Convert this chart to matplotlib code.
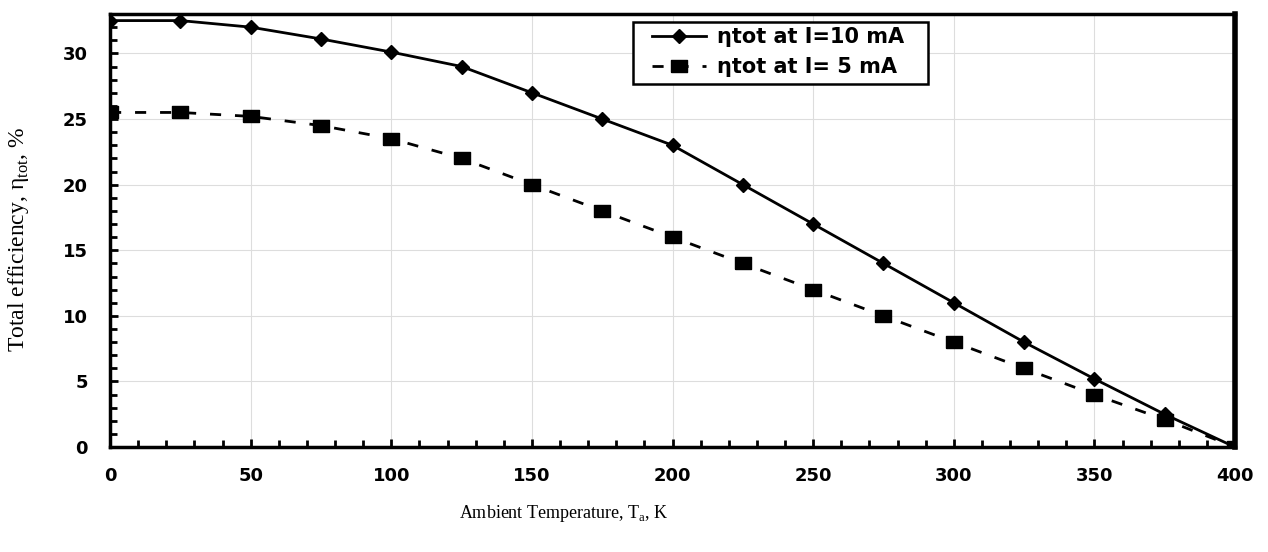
import matplotlib
matplotlib.use("Agg")
import matplotlib.pyplot as plt
from matplotlib.patches import Rectangle
from matplotlib.ticker import MultipleLocator

plt.rcParams["mathtext.fontset"] = "custom"
plt.rcParams["mathtext.rm"] = "Liberation Serif"

# ambient temperature, K
temp = [0, 25, 50, 75, 100, 125, 150, 175, 200, 225, 250, 275, 300, 325, 350, 375, 400]
# total efficiency, %
eff_10ma = [32.5, 32.5, 32.0, 31.1, 30.1, 29.0, 27.0, 25.0, 23.0, 20.0, 17.0, 14.0, 11.0, 8.0, 5.2, 2.5, 0.0]
eff_5ma = [25.5, 25.5, 25.2, 24.5, 23.5, 22.0, 20.0, 18.0, 16.0, 14.0, 12.0, 10.0, 8.0, 6.0, 4.0, 2.1, 0.0]

# slightly wide box marker
box = [(-1.3, -1), (1.3, -1), (1.3, 1), (-1.3, 1), (-1.3, -1)]

fig = plt.figure(figsize=(12.68, 5.52), dpi=100)
ax = fig.add_axes([0.0868, 0.19, 0.8872, 0.7846])

ax.plot(temp, eff_10ma, color="black", lw=2, marker="D", ms=7,
        label="ηtot at I=10 mA", zorder=3)
ax.plot(temp, eff_5ma, color="black", lw=2, ls=(0, (4, 5)), marker=box, ms=12,
        label="ηtot at I= 5 mA", zorder=3)

ax.set_xlim(0, 400)
ax.set_ylim(0, 33)
ax.xaxis.set_major_locator(MultipleLocator(50))
ax.xaxis.set_minor_locator(MultipleLocator(10))
ax.yaxis.set_major_locator(MultipleLocator(5))
ax.yaxis.set_minor_locator(MultipleLocator(1))
ax.grid(True, which="major", color="#dddddd", lw=0.8, zorder=0)

ax.tick_params(which="both", direction="in", top=False, right=False, width=2)
ax.tick_params(which="major", length=6)
ax.tick_params(which="minor", length=5)
ax.tick_params(axis="y", which="major", pad=16)
ax.tick_params(axis="x", which="major", pad=14)
for lab in ax.get_xticklabels() + ax.get_yticklabels():
    lab.set_fontfamily("DejaVu Sans")
    lab.set_fontweight("bold")
    lab.set_fontsize(13)

for side in ["left", "bottom"]:
    ax.spines[side].set_linewidth(2.5)
ax.spines["right"].set_linewidth(4)
ax.spines["top"].set_linewidth(2.5)

ax.set_xlabel("Ambient Temperature, T$_{\\mathrm{a}}$, K", fontfamily="Liberation Serif",
              fontsize=13)
ax.xaxis.set_label_coords(0.403, -0.129)
ax.set_ylabel("Total efficiency, η$_{\\mathrm{tot}}$, %", fontfamily="Liberation Serif",
              fontsize=17)
ax.yaxis.set_label_coords(-0.07, 0.48)

# legend entries without frame, boxed by a separate white rectangle
frame = Rectangle((0.465, 0.838), 0.262, 0.1435, transform=ax.transAxes,
                  facecolor="white", edgecolor="black", lw=1.8, zorder=4)
ax.add_patch(frame)
leg = ax.legend(loc="upper left", bbox_to_anchor=(0.482, 0.97), frameon=False,
                borderpad=0, handlelength=2.6, handletextpad=0.5, borderaxespad=0,
                labelspacing=0.5,
                prop={"family": "DejaVu Sans", "weight": "bold", "size": 15})
leg.set_zorder(5)

fig.savefig("out.png", dpi=100)
